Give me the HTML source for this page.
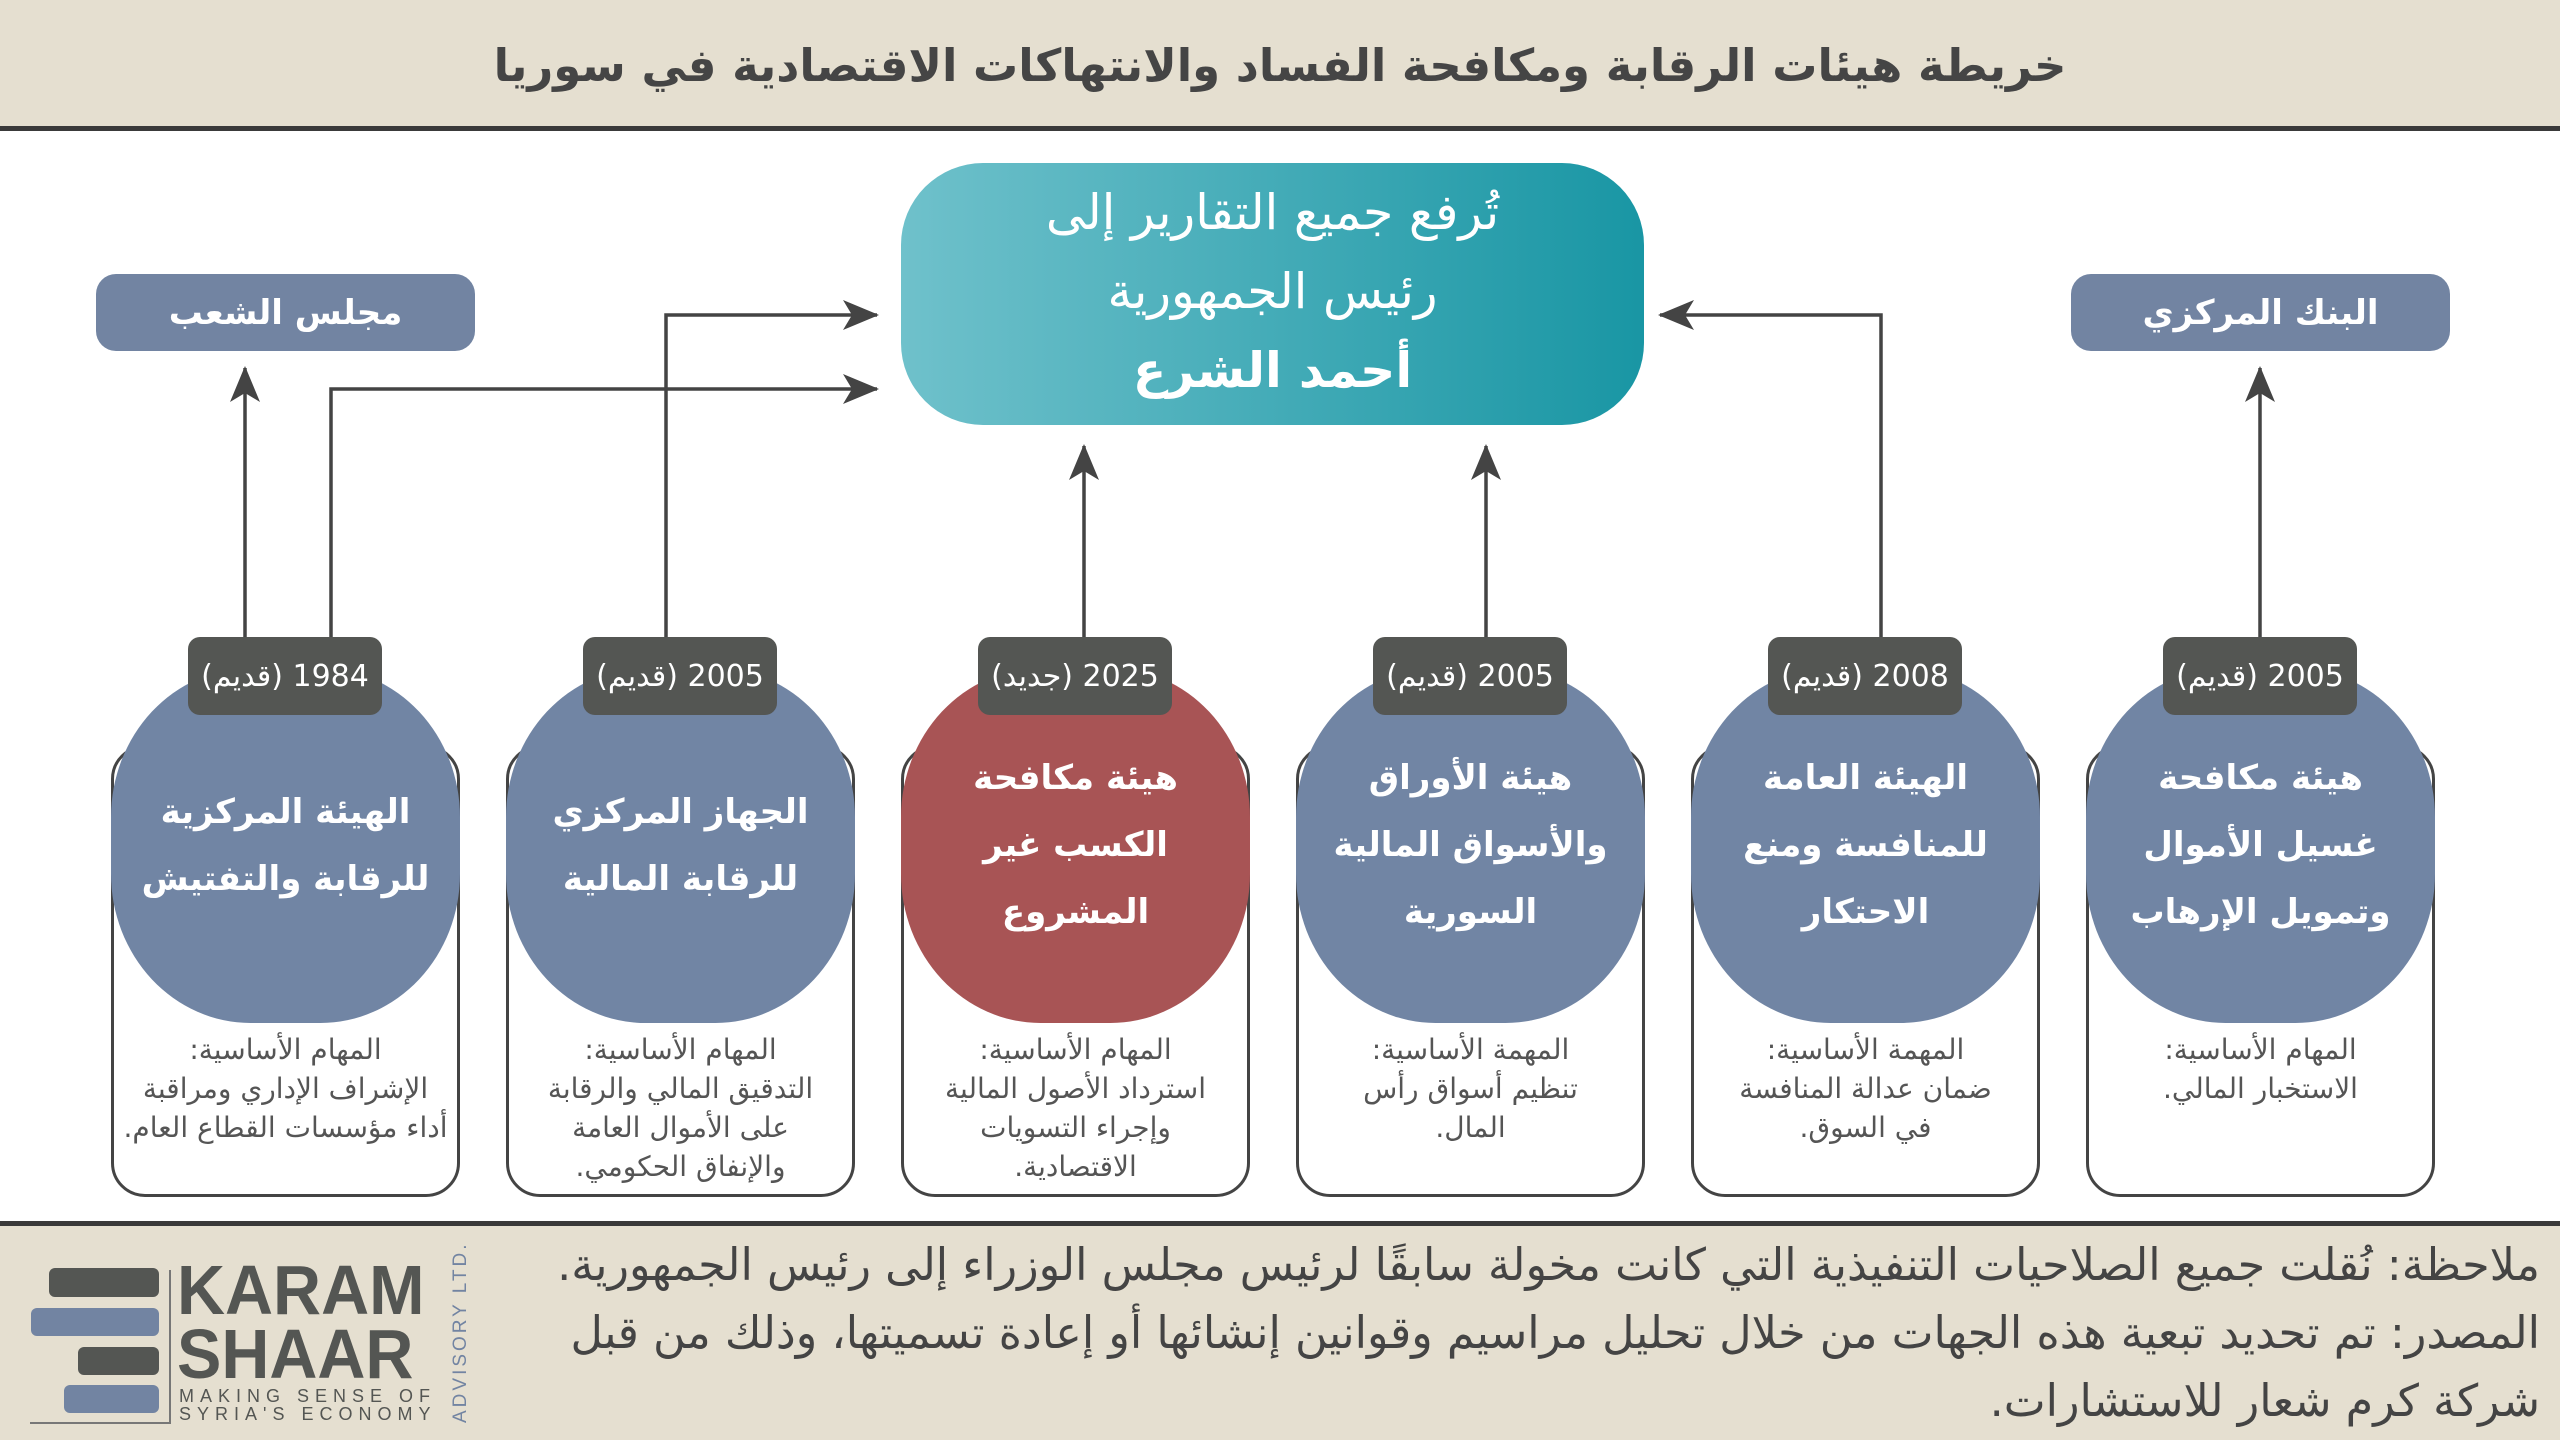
<!DOCTYPE html>
<html><head><meta charset="utf-8"><style>
*{margin:0;padding:0;box-sizing:border-box}
body{width:2560px;height:1440px;position:relative;background:#fff;overflow:hidden;font-family:"DejaVu Sans","Liberation Sans",sans-serif;color:#444}
.abs{position:absolute}
.hdr{left:0;top:0;width:2560px;height:131px;background:#e5dfd0;border-bottom:5px solid #3a3a3a}
.title{left:0;top:0;width:2560px;height:131px;display:flex;align-items:center;justify-content:center;font-size:45px;font-weight:bold;color:#454545;direction:rtl}
.center{left:901px;top:163px;width:743px;height:262px;border-radius:82px;background:linear-gradient(90deg,#6fc1cb,#1996a4);color:#fff;text-align:center;direction:rtl;font-size:49px;line-height:79px;padding-top:10px}
.side{width:379px;height:77px;border-radius:20px;background:#7284a2;color:#fff;font-weight:bold;font-size:34px;display:flex;align-items:center;justify-content:center;direction:rtl}
.box{width:349px;top:745px;height:452px;border:3.5px solid #444;border-radius:34px;background:#fff}
.blob{width:349px;top:668px;height:355px;border-radius:40%/42%;color:#fff;font-weight:bold;font-size:34px;line-height:67px;display:flex;align-items:center;justify-content:center;text-align:center;direction:rtl}
.tab{width:194px;top:637px;height:78px;background:#545653;border-radius:12px;color:#fff;font-size:30px;display:flex;align-items:center;justify-content:center;direction:rtl}
.desc{width:349px;top:1030px;text-align:center;font-size:28px;line-height:39px;direction:rtl;color:#555;white-space:nowrap}
.ftr{left:0;top:1221px;width:2560px;height:219px;background:#e5dfd0;border-top:5px solid #3a3a3a}
.note{right:20px;top:1232px;width:2100px;text-align:right;direction:rtl;font-size:44.5px;line-height:68px;color:#444;white-space:nowrap}
</style></head><body>
<div class="abs hdr"></div>
<div class="abs title">خريطة هيئات الرقابة ومكافحة الفساد والانتهاكات الاقتصادية في سوريا</div>

<svg class="abs" style="left:0;top:0" width="2560" height="1440">
<defs><marker id="b" markerWidth="36" markerHeight="30" refX="34" refY="15" orient="auto" markerUnits="userSpaceOnUse"><path d="M0,0 L36,15 L0,30 L9,15 Z" fill="#444"/></marker></defs>
<g stroke="#444" stroke-width="3.5" fill="none">
<path d="M245,640 V368" marker-end="url(#b)"/>
<path d="M331,640 V389 H877" marker-end="url(#b)"/>
<path d="M666,640 V315 H877" marker-end="url(#b)"/>
<path d="M1084,640 V446" marker-end="url(#b)"/>
<path d="M1486,640 V446" marker-end="url(#b)"/>
<path d="M1881,640 V315 H1660" marker-end="url(#b)"/>
<path d="M2260,640 V368" marker-end="url(#b)"/>
</g></svg>

<div class="abs center">تُرفع جميع التقارير إلى<br>رئيس الجمهورية<br><b>أحمد الشرع</b></div>
<div class="abs side" style="left:96px;top:274px">مجلس الشعب</div>
<div class="abs side" style="left:2071px;top:274px">البنك المركزي</div>

<div class="abs box" style="left:111px"></div><div class="abs blob" style="left:111px;background:#7185a4">الهيئة المركزية<br>للرقابة والتفتيش</div><div class="abs tab" style="left:188px">1984 (قديم)</div>
<div class="abs desc" style="left:111px">المهام الأساسية:<br>الإشراف الإداري ومراقبة<br>أداء مؤسسات القطاع العام.</div>

<div class="abs box" style="left:506px"></div><div class="abs blob" style="left:506px;background:#7185a4">الجهاز المركزي<br>للرقابة المالية</div><div class="abs tab" style="left:583px">2005 (قديم)</div>
<div class="abs desc" style="left:506px">المهام الأساسية:<br>التدقيق المالي والرقابة<br>على الأموال العامة<br>والإنفاق الحكومي.</div>

<div class="abs box" style="left:901px"></div><div class="abs blob" style="left:901px;background:#a85455">هيئة مكافحة<br>الكسب غير<br>المشروع</div><div class="abs tab" style="left:978px">2025 (جديد)</div>
<div class="abs desc" style="left:901px">المهام الأساسية:<br>استرداد الأصول المالية<br>وإجراء التسويات<br>الاقتصادية.</div>

<div class="abs box" style="left:1296px"></div><div class="abs blob" style="left:1296px;background:#7185a4">هيئة الأوراق<br>والأسواق المالية<br>السورية</div><div class="abs tab" style="left:1373px">2005 (قديم)</div>
<div class="abs desc" style="left:1296px">المهمة الأساسية:<br>تنظيم أسواق رأس<br>المال.</div>

<div class="abs box" style="left:1691px"></div><div class="abs blob" style="left:1691px;background:#7185a4">الهيئة العامة<br>للمنافسة ومنع<br>الاحتكار</div><div class="abs tab" style="left:1768px">2008 (قديم)</div>
<div class="abs desc" style="left:1691px">المهمة الأساسية:<br>ضمان عدالة المنافسة<br>في السوق.</div>

<div class="abs box" style="left:2086px"></div><div class="abs blob" style="left:2086px;background:#7185a4">هيئة مكافحة<br>غسيل الأموال<br>وتمويل الإرهاب</div><div class="abs tab" style="left:2163px">2005 (قديم)</div>
<div class="abs desc" style="left:2086px">المهام الأساسية:<br>الاستخبار المالي.</div>

<div class="abs ftr"></div>
<div class="abs note">ملاحظة: نُقلت جميع الصلاحيات التنفيذية التي كانت مخولة سابقًا لرئيس مجلس الوزراء إلى رئيس الجمهورية.<br>المصدر: تم تحديد تبعية هذه الجهات من خلال تحليل مراسيم وقوانين إنشائها أو إعادة تسميتها، وذلك من قبل<br>شركة كرم شعار للاستشارات.</div>

<div class="abs" style="left:49px;top:1268px;width:110px;height:29px;background:#545653;border-radius:6px"></div>
<div class="abs" style="left:31px;top:1308px;width:128px;height:28px;background:#7284a2;border-radius:6px"></div>
<div class="abs" style="left:78px;top:1347px;width:81px;height:28px;background:#545653;border-radius:6px"></div>
<div class="abs" style="left:64px;top:1385px;width:95px;height:28px;background:#7284a2;border-radius:6px"></div>
<div class="abs" style="left:169px;top:1270px;width:2px;height:153px;background:#777"></div>
<div class="abs" style="left:30px;top:1422px;width:141px;height:2px;background:#777"></div>
<div class="abs" style="left:177px;top:1258px;font-family:'Liberation Sans',sans-serif;font-size:70px;line-height:64px;color:#545653;font-weight:bold;transform:scaleX(0.95);transform-origin:0 0">KARAM<br>SHAAR</div>
<div class="abs" style="left:179px;top:1387px;font-family:'Liberation Sans',sans-serif;font-size:18px;line-height:18px;color:#545653;letter-spacing:6px">MAKING SENSE OF<br>SYRIA'S ECONOMY</div>
<div class="abs" style="left:450px;top:1423px;transform-origin:0 0;transform:rotate(-90deg);font-family:'Liberation Sans',sans-serif;font-size:19px;color:#7284a2;letter-spacing:3px;white-space:nowrap">ADVISORY LTD.</div>
</body></html>
